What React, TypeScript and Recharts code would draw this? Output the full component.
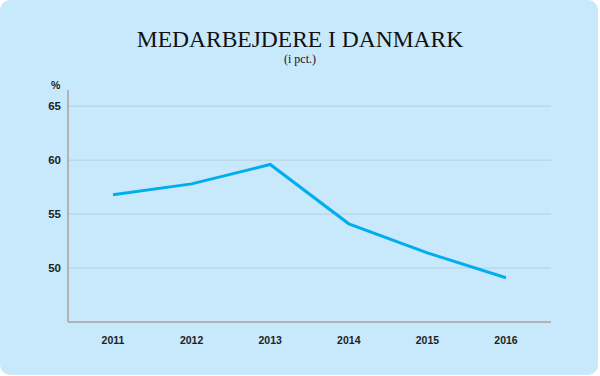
import { LineChart, Line, XAxis, YAxis, CartesianGrid } from "recharts";

const years = ["2011", "2012", "2013", "2014", "2015", "2016"];
const shares = [56.8, 57.8, 59.6, 54.1, 51.4, 49.1];
const yTicks = [50, 55, 60, 65];

const data = years.map((year, i) => ({ year, value: shares[i] }));

export default function App() {
  return (
    <div style={{ position: "absolute", left: 0, top: 0, width: 600, height: 376, background: "#fff" }}>
      <div
        style={{
          position: "absolute",
          left: 0,
          top: 0,
          width: 598,
          height: 375,
          borderRadius: 10,
          background: "#c8e9fc",
        }}
      />
      <div
        style={{
          position: "absolute",
          left: 0,
          top: 26,
          width: 600,
          textAlign: "center",
          fontFamily: "'Liberation Serif', serif",
          fontSize: 23.5,
          color: "#111",
          lineHeight: "26px",
        }}
      >
        MEDARBEJDERE I DANMARK
      </div>
      <div
        style={{
          position: "absolute",
          left: 0,
          top: 52,
          width: 600,
          textAlign: "center",
          fontFamily: "'Liberation Serif', serif",
          fontSize: 12,
          color: "#111",
        }}
      >
        (i pct.)
      </div>
      <div
        style={{
          position: "absolute",
          left: 51,
          top: 79,
          fontFamily: "'Liberation Sans', Arial, sans-serif",
          fontWeight: "bold",
          fontSize: 10.5,
          color: "#222",
        }}
      >
        %
      </div>
      <div style={{ position: "absolute", left: 0, top: 0 }}>
        <LineChart width={600} height={376} data={data} margin={{ top: 90, right: 49, bottom: 24, left: 8 }}>
          <CartesianGrid vertical={false} horizontalValues={yTicks} stroke="#b4cfdf" strokeWidth={1} />
          <XAxis
            dataKey="year"
            height={30}
            padding={{ left: 45, right: 45 }}
            axisLine={{ stroke: "#b3b3b3", strokeWidth: 2 }}
            tickLine={false}
            tickSize={0}
            tickMargin={15}
            tick={{ fill: "#222", fontSize: 10.5, fontWeight: "bold", fontFamily: "'Liberation Sans', Arial, sans-serif" }}
          />
          <YAxis
            width={60}
            domain={[45, 66.5]}
            ticks={yTicks}
            axisLine={{ stroke: "#b3b3b3", strokeWidth: 2 }}
            tickLine={false}
            tickSize={0}
            tickMargin={7}
            tick={{ fill: "#222", fontSize: 11.5, fontWeight: "bold", fontFamily: "'Liberation Sans', Arial, sans-serif" }}
          />
          <Line
            type="linear"
            dataKey="value"
            stroke="#00aeef"
            strokeWidth={3}
            dot={false}
            isAnimationActive={false}
          />
        </LineChart>
      </div>
    </div>
  );
}
